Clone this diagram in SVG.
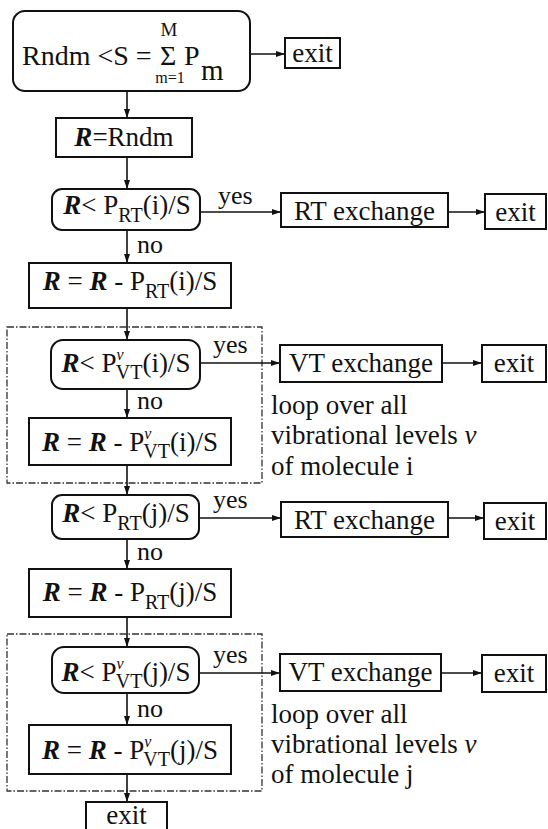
<svg xmlns="http://www.w3.org/2000/svg" width="548" height="829" viewBox="0 0 548 829">
<defs>
<marker id="ah" markerWidth="9" markerHeight="6" refX="8" refY="3" orient="auto" markerUnits="userSpaceOnUse"><path d="M0,0 L9,3 L0,6 z" fill="#111"/></marker>
</defs>
<rect width="548" height="829" fill="#fff"/>

<g fill="none" stroke="#333" stroke-width="1.3" stroke-dasharray="7 2 1.5 2">
<g id="loop-i"><rect x="7" y="327" width="255" height="156"/></g>
<g id="loop-j"><rect x="7" y="634" width="255" height="157"/></g>
</g>

<g id="conn" stroke="#111" stroke-width="1.6" marker-end="url(#ah)">
<line x1="250" y1="54" x2="284" y2="54"/>
<line x1="127" y1="91" x2="127" y2="117"/>
<line x1="127" y1="157" x2="127" y2="188"/>
<line x1="200" y1="212" x2="280" y2="212"/>
<line x1="448" y1="212" x2="484" y2="212"/>
<line x1="127" y1="230" x2="127" y2="262"/>
<line x1="127" y1="308" x2="127" y2="339"/>
<line x1="200" y1="363" x2="279" y2="363"/>
<line x1="442" y1="363" x2="481" y2="363"/>
<line x1="127" y1="389" x2="127" y2="417"/>
<line x1="127" y1="465" x2="127" y2="494"/>
<line x1="199" y1="518" x2="280" y2="518"/>
<line x1="448" y1="518" x2="483" y2="518"/>
<line x1="127" y1="539" x2="127" y2="568"/>
<line x1="127" y1="617" x2="127" y2="646"/>
<line x1="199" y1="673" x2="279" y2="673"/>
<line x1="441" y1="673" x2="481" y2="673"/>
<line x1="127" y1="693" x2="127" y2="724"/>
<line x1="127" y1="774" x2="127" y2="801"/>
</g>

<g id="labels" font-size="26" fill="#111">
<text font-family="Liberation Serif" x="218" y="204">yes</text>
<text font-family="Liberation Serif" x="137" y="253">no</text>
<text font-family="Liberation Serif" x="213" y="353">yes</text>
<text font-family="Liberation Serif" x="137" y="409">no</text>
<text font-family="Liberation Serif" x="213" y="508">yes</text>
<text font-family="Liberation Serif" x="137" y="560">no</text>
<text font-family="Liberation Serif" x="213" y="663">yes</text>
<text font-family="Liberation Serif" x="137" y="717">no</text>
</g>

<g id="start" fill="#111">
<rect x="13" y="11" width="237" height="80" rx="12" fill="#fff" stroke="#111" stroke-width="2"/>
<text font-family="Liberation Serif" x="22" y="65" font-size="28">Rndm &lt;S = </text>
<text font-family="Liberation Serif" x="160" y="65" font-size="28">Σ</text>
<text font-family="Liberation Serif" text-anchor="middle" x="169" y="36" font-size="19">M</text>
<text font-family="Liberation Serif" text-anchor="middle" x="170" y="83" font-size="16">m=1</text>
<text font-family="Liberation Serif" x="184" y="65" font-size="28">P</text>
<text font-family="Liberation Serif" x="201" y="80" font-size="29">m</text>
</g>

<g id="nodes" font-size="27" fill="#111" text-anchor="middle">
<g id="boxes" fill="#fff" stroke="#111" stroke-width="2">
<rect id="exit0-box" x="285" y="38" width="55" height="30"/>
<rect id="assign-box" x="56" y="118" width="136" height="39"/>
<rect id="dec-rt-i-box" x="52" y="189" width="148" height="41" rx="10"/>
<rect id="rtex-i-box" x="281" y="193" width="167" height="34"/>
<rect id="exit1-box" x="485" y="194" width="61" height="35"/>
<rect id="sub-rt-i-box" x="29" y="263" width="202" height="45"/>
<rect id="dec-vt-i-box" x="51" y="340" width="149" height="49" rx="12"/>
<rect id="vtex-i-box" x="280" y="345" width="162" height="37"/>
<rect id="exit2-box" x="482" y="345" width="64" height="37"/>
<rect id="sub-vt-i-box" x="29" y="418" width="202" height="47"/>
<rect id="dec-rt-j-box" x="52" y="495" width="147" height="44" rx="10"/>
<rect id="rtex-j-box" x="281" y="502" width="167" height="35"/>
<rect id="exit3-box" x="484" y="503" width="62" height="36"/>
<rect id="sub-rt-j-box" x="29" y="569" width="202" height="48"/>
<rect id="dec-vt-j-box" x="52" y="647" width="147" height="46" rx="12"/>
<rect id="vtex-j-box" x="280" y="654" width="161" height="37"/>
<rect id="exit4-box" x="482" y="655" width="64" height="37"/>
<rect id="sub-vt-j-box" x="29" y="725" width="202" height="49"/>
<rect id="exit5-box" x="86" y="802" width="81" height="32"/>
</g>
<g id="exit0"><text font-family="Liberation Serif" x="312.5" y="62">exit</text></g>
<g id="assign"><text font-family="Liberation Serif" x="124" y="146"><tspan font-weight="bold" font-style="italic">R</tspan>=Rndm</text></g>
<g id="dec-rt-i"><text font-family="Liberation Serif" x="127" y="214"><tspan font-weight="bold" font-style="italic">R</tspan>&lt; P<tspan dy="8" font-size="20">RT</tspan><tspan dy="-8">(i)/S</tspan></text></g>
<g id="rtex-i"><text font-family="Liberation Serif" x="364.5" y="220">RT exchange</text></g>
<g id="exit1"><text font-family="Liberation Serif" x="515.5" y="221">exit</text></g>
<g id="sub-rt-i"><text font-family="Liberation Serif" x="130" y="290"><tspan font-weight="bold" font-style="italic">R</tspan> = <tspan font-weight="bold" font-style="italic">R</tspan> - P<tspan dy="8" font-size="20">RT</tspan><tspan dy="-8">(i)/S</tspan></text></g>
<g id="dec-vt-i"><text font-family="Liberation Serif" x="126" y="372"><tspan font-weight="bold" font-style="italic">R</tspan>&lt; P<tspan dy="-12" font-size="16" font-style="italic">ν</tspan><tspan dx="-8" dy="19" font-size="20">VT</tspan><tspan dy="-7">(i)/S</tspan></text></g>
<g id="vtex-i"><text font-family="Liberation Serif" x="361" y="372">VT exchange</text></g>
<g id="exit2"><text font-family="Liberation Serif" x="514" y="372">exit</text></g>
<g id="sub-vt-i"><text font-family="Liberation Serif" x="130" y="451"><tspan font-weight="bold" font-style="italic">R</tspan> = <tspan font-weight="bold" font-style="italic">R</tspan> - P<tspan dy="-12" font-size="16" font-style="italic">ν</tspan><tspan dx="-8" dy="19" font-size="20">VT</tspan><tspan dy="-7">(i)/S</tspan></text></g>
<g id="dec-rt-j"><text font-family="Liberation Serif" x="126" y="522"><tspan font-weight="bold" font-style="italic">R</tspan>&lt; P<tspan dy="8" font-size="20">RT</tspan><tspan dy="-8">(j)/S</tspan></text></g>
<g id="rtex-j"><text font-family="Liberation Serif" x="364.5" y="529">RT exchange</text></g>
<g id="exit3"><text font-family="Liberation Serif" x="515" y="530">exit</text></g>
<g id="sub-rt-j"><text font-family="Liberation Serif" x="130" y="601"><tspan font-weight="bold" font-style="italic">R</tspan> = <tspan font-weight="bold" font-style="italic">R</tspan> - P<tspan dy="8" font-size="20">RT</tspan><tspan dy="-8">(j)/S</tspan></text></g>
<g id="dec-vt-j"><text font-family="Liberation Serif" x="126" y="681"><tspan font-weight="bold" font-style="italic">R</tspan>&lt; P<tspan dy="-12" font-size="16" font-style="italic">ν</tspan><tspan dx="-8" dy="19" font-size="20">VT</tspan><tspan dy="-7">(j)/S</tspan></text></g>
<g id="vtex-j"><text font-family="Liberation Serif" x="360.5" y="681">VT exchange</text></g>
<g id="exit4"><text font-family="Liberation Serif" x="514" y="682">exit</text></g>
<g id="sub-vt-j"><text font-family="Liberation Serif" x="130" y="759"><tspan font-weight="bold" font-style="italic">R</tspan> = <tspan font-weight="bold" font-style="italic">R</tspan> - P<tspan dy="-12" font-size="16" font-style="italic">ν</tspan><tspan dx="-8" dy="19" font-size="20">VT</tspan><tspan dy="-7">(j)/S</tspan></text></g>
<g id="exit5"><text font-family="Liberation Serif" x="126.5" y="824">exit</text></g>
</g>

<g id="notes" font-size="27" fill="#111">
<text font-family="Liberation Serif" x="271" y="414">loop over all</text>
<text font-family="Liberation Serif" x="271" y="444">vibrational levels <tspan font-style="italic">ν</tspan></text>
<text font-family="Liberation Serif" x="271" y="475">of molecule i</text>
<text font-family="Liberation Serif" x="271" y="723">loop over all</text>
<text font-family="Liberation Serif" x="271" y="753">vibrational levels <tspan font-style="italic">ν</tspan></text>
<text font-family="Liberation Serif" x="271" y="783">of molecule j</text>
</g>
</svg>
